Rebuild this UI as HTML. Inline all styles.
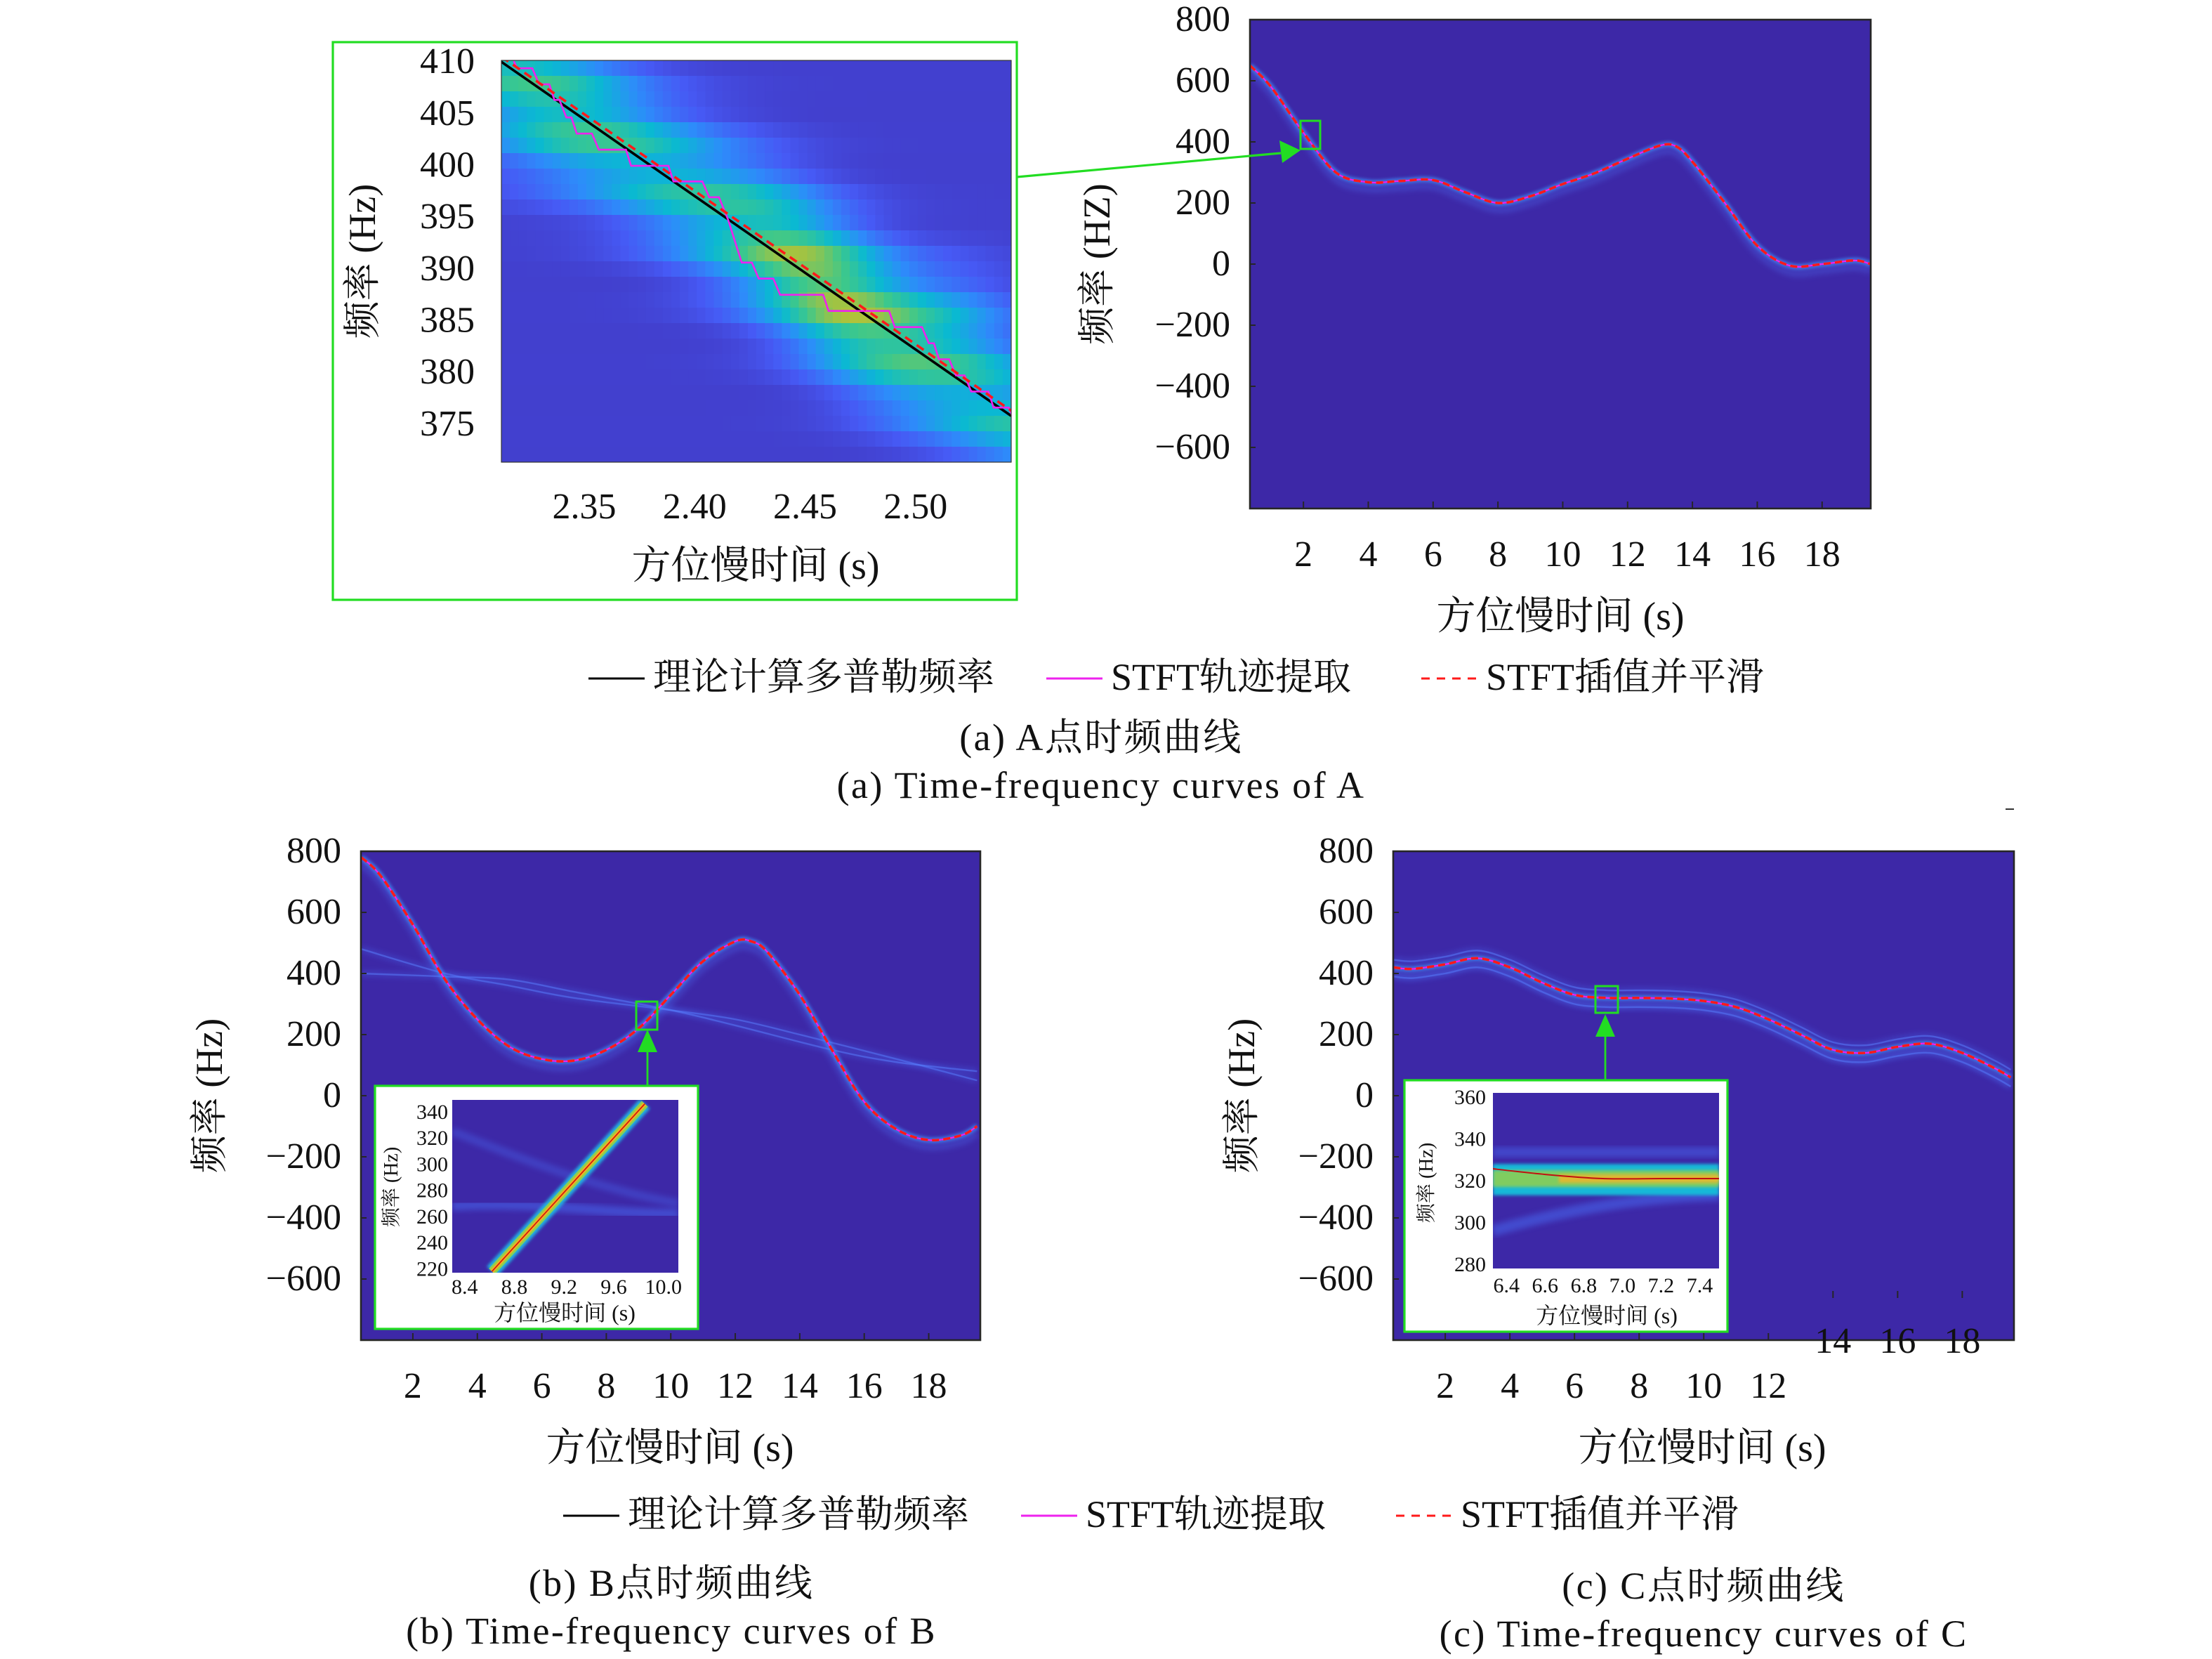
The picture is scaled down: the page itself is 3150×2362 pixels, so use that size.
<!DOCTYPE html>
<html><head><meta charset="utf-8"><style>
html,body{margin:0;padding:0;background:#fff}
svg{display:block}
text{font-family:"Liberation Serif","Noto Serif CJK SC",serif;fill:#111}
</style></head><body>
<svg id="fig" width="3150" height="2362" viewBox="0 0 1575 1181" xmlns="http://www.w3.org/2000/svg">
<defs>
<filter id="blur2" x="-20%" y="-20%" width="140%" height="140%"><feGaussianBlur stdDeviation="2"/></filter>
<filter id="blur1" x="-20%" y="-20%" width="140%" height="140%"><feGaussianBlur stdDeviation="1"/></filter>
<clipPath id="clipA"><rect x="890" y="14" width="442" height="348"/></clipPath>
<clipPath id="clipB"><rect x="257" y="606" width="441" height="348"/></clipPath>
<clipPath id="clipC"><rect x="992" y="606" width="442" height="348"/></clipPath>
<clipPath id="clipIA"><rect x="357" y="43" width="363" height="286"/></clipPath>
<clipPath id="clipIB"><rect x="322" y="783" width="161" height="123"/></clipPath>
<clipPath id="clipIC"><rect x="1063" y="778" width="161" height="125"/></clipPath>
</defs>
<g id="figroot"></g>
</svg>
<script>
// ---------- data ----------
var tA = [0.35,1,2,3,4,5,6,7,8,9,10,11,12,13,13.5,14,15,16,17,18,19,19.5];
var fA = [650,580,430,300,268,272,275,235,200,222,262,298,345,388,385,335,200,60,-5,0,12,0];
var tB = [0.4,1,2,3,4,5,6,7,8,9,10,11,12,12.5,13,14,15,16,17,18,19,19.5];
var fB = [780,720,560,380,250,160,120,115,150,220,330,440,505,505,470,330,150,-20,-110,-145,-130,-100];
var tB2 = [0.4,3,5,7,10,12,14,17,19.5];
var fB2 = [480,400,360,320,280,250,200,120,50];
var tB3 = [0.4,3,5,7,10,12,15,17,19.5];
var fB3 = [400,390,380,340,280,230,150,110,80];
var tC = [0.4,1,2,3,4,5,6,7,8,9,10,11,12,13,14,15,16,17,18,19,19.5];
var fC = [420,415,430,450,420,370,330,320,320,318,310,290,250,200,150,140,160,170,140,90,60];
var xTicksMain = [2,4,6,8,10,12,14,16,18];
var yTicksMain = [800,600,400,200,0,-200,-400,-600];
var xTicksIA = [2.35,2.40,2.45,2.50];
var yTicksIA = [410,405,400,395,390,385,380,375];
var stairT = [2.3181,2.3196,2.3265,2.3296,2.3342,2.3365,2.3388,2.3419,2.3442,2.3466,2.3535,2.3566,2.3689,2.3712,2.3881,2.3904,2.4035,2.4066,2.4110,2.4151,2.4213,2.4259,2.4290,2.4356,2.4387,2.4582,2.4606,2.4880,2.4906,2.5029,2.5060,2.5083,2.5106,2.5152,2.5183,2.5222,2.5252,2.5330,2.5353,2.5422,2.5452];
var stairF = [410.08,409.38,409.38,407.83,407.83,406.32,406.32,404.63,404.63,403.07,403.07,401.52,401.52,399.96,399.96,398.45,398.45,396.92,396.92,394.77,390.61,390.61,389.06,389.06,387.50,387.50,385.94,385.94,384.38,384.38,382.82,382.82,381.27,381.27,379.71,379.71,378.15,378.15,376.60,376.60,375.05];
var theoryT = [2.3125,2.5433];
var theoryF = [410.0,375.8];
var xTicksIB = [8.4,8.8,9.2,9.6,10.0];
var yTicksIB = [340,320,300,280,260,240,220];
var lineIBt = [8.62,9.85];
var lineIBf = [218,346];
var xTicksIC = [6.4,6.6,6.8,7.0,7.2,7.4];
var yTicksIC = [360,340,320,300,280];
var lineICt = [6.3,6.6,6.9,7.2,7.5];
var lineICf = [326,323,321,321,321];

// ---------- helpers ----------
var SVGNS="http://www.w3.org/2000/svg";
var figRoot=document.getElementById('figroot');
function mk(tag,attrs,parent){var e=document.createElementNS(SVGNS,tag);for(var k in attrs){e.setAttribute(k,attrs[k]);}(parent||figRoot).appendChild(e);return e;}
function tx(x,y,s,size,anchor,parent){var t=mk('text',{x:x,y:y,'font-size':size,'text-anchor':anchor||'middle'},parent);t.textContent=s;return t;}
function lin(d0,d1,r0,r1){return function(v){return r0+(v-d0)/(d1-d0)*(r1-r0);};}
function smooth(pts){var d='M'+pts[0][0]+','+pts[0][1];for(var i=0;i<pts.length-1;i++){var p0=pts[i-1]||pts[i],p1=pts[i],p2=pts[i+1],p3=pts[i+2]||p2;
 var c1x=p1[0]+(p2[0]-p0[0])/6,c1y=p1[1]+(p2[1]-p0[1])/6,c2x=p2[0]-(p3[0]-p1[0])/6,c2y=p2[1]-(p3[1]-p1[1])/6;
 d+=' C'+c1x+','+c1y+' '+c2x+','+c2y+' '+p2[0]+','+p2[1];}return d;}
var PSTOPS=[[0,[62,38,168]],[0.2,[70,90,245]],[0.35,[45,140,250]],[0.5,[10,185,210]],[0.65,[60,200,140]],[0.8,[170,195,60]],[0.9,[230,190,40]],[1,[249,230,20]]];
function parula(v){v=Math.max(0,Math.min(1,v));
 for(var i=0;i<PSTOPS.length-1;i++){if(v<=PSTOPS[i+1][0]){var a=PSTOPS[i],b=PSTOPS[i+1],f=(v-a[0])/(b[0]-a[0]);
   var r=Math.round(a[1][0]+(b[1][0]-a[1][0])*f),g=Math.round(a[1][1]+(b[1][1]-a[1][1])*f),bb=Math.round(a[1][2]+(b[1][2]-a[1][2])*f);
   return 'rgb('+r+','+g+','+bb+')';}}return 'rgb(249,230,20)';}
var BGCOL='#3d28a7';

function mainPlot(name,x0,y0,w,h,clip,tmin,tmax,st,sf,faint,xLow){
  var g=mk('g',{});
  
  
  var sx=lin(tmin,tmax,x0,x0+w), sy=lin(-800,800,y0+h,y0);
  var bg=mk('rect',{x:x0,y:y0,width:w,height:h,fill:BGCOL},g);
  
  
  var cg=mk('g',{'clip-path':'url(#'+clip+')'},g);
  for(var j=0;j<faint.length;j++){
    var ft=faint[j][0],ff=faint[j][1];
    var fp=ft.map(function(t,i){return [sx(t),sy(ff[i])];});
    mk('path',{d:smooth(fp),fill:'none',stroke:'#4a6df5','stroke-width':4,opacity:0.3,filter:'url(#blur2)'},cg);
    var fl=mk('path',{d:smooth(fp),fill:'none',stroke:'#5a80ff','stroke-width':1.2,opacity:0.5},cg);
    
    
  }
  var p=st.map(function(t,i){return [sx(t),sy(sf[i])];});
  var p2=st.map(function(t,i){return [sx(t),sy(sf[i]-22)];});
  mk('path',{d:smooth(p2),fill:'none',stroke:'#4f73f7','stroke-width':5,opacity:0.3,filter:'url(#blur2)'},cg);
  mk('path',{d:smooth(p),fill:'none',stroke:'#3f8cf5','stroke-width':4,opacity:0.75,filter:'url(#blur1)'},cg);
  var th=mk('path',{d:smooth(p),fill:'none',stroke:'#111','stroke-width':1.2},cg);
  
  
  var mg=mk('path',{d:smooth(p),fill:'none',stroke:'#ee22ee','stroke-width':1.2},cg);
  
  
  var rd=mk('path',{d:smooth(p),fill:'none',stroke:'#ff1a1a','stroke-width':1.8,'stroke-dasharray':'5,3'},cg);
  
  
  mk('rect',{x:x0,y:y0,width:w,height:h,fill:'none',stroke:'#262626','stroke-width':1.3},g);
  yTicksMain.forEach(function(v){mk('line',{x1:x0,x2:x0+4,y1:sy(v),y2:sy(v),stroke:'#262626'},g);
    var t=tx(x0-14,sy(v)+8,String(v).replace('-','\u2212'),26,'end',g);
    
    });
  xTicksMain.forEach(function(v){var low=xLow&&v>=14;var by=low?y0+h-30:y0+h;
    mk('line',{x1:sx(v),x2:sx(v),y1:by,y2:by-5,stroke:'#262626'},g);
    var t=tx(sx(v),low?y0+h+9:y0+h+41,String(v),26,'middle',g);
    
    });
}

// ---------- Panel A main ----------
try{
mainPlot('panel-a-main-plot',890,14,442,348,'clipA',0.35,19.5,tA,fA,[],false);
var ylA=tx(0,0,'频率 (HZ)',27,'middle');ylA.setAttribute('transform','translate(790,188) rotate(-90)');


var xlA=tx(1111,448,'方位慢时间 (s)',28,'middle');


var zbA=mk('rect',{x:926,y:86,width:14,height:20,fill:'none',stroke:'#22dd22','stroke-width':1.5});


var cnA=mk('line',{x1:724,y1:126,x2:912,y2:109,stroke:'#22dd22','stroke-width':1.6});


mk('polygon',{points:'926,107 911,100 913,116',fill:'#22dd22'});
}catch(e){console.log(e);}

// ---------- Panel A inset ----------
try{
var gIA=mk('g',{});


mk('rect',{x:237,y:30,width:487,height:397,fill:'#fff',stroke:'#22dd22','stroke-width':1.6},gIA);
var sxIA=lin(2.3125,2.5433,357,720), syIA=lin(371.33,410.14,329,43);
var hgIA=mk('g',{'clip-path':'url(#clipIA)'},gIA);
var NC=60,NR=26;
for(var r=0;r<NR;r++){for(var c=0;c<NC;c++){
  var t=2.3125+(c+0.5)/NC*0.2308, f=410.14-(r+0.5)/NR*38.81;
  var fl0=410-(t-2.3125)*148.2; var d=f-fl0;
  var v=0.1+0.55*Math.exp(-(d/7.5)*(d/7.5))*(0.75+0.45*Math.exp(-((t-2.46)/0.04)*((t-2.46)/0.04)))+0.08*Math.sin(r*1.7)*Math.exp(-(d/10)*(d/10));
  v+=0.12*Math.exp(-((t-2.33)/0.04)*((t-2.33)/0.04))*Math.exp(-((f-403)/6)*((f-403)/6));
  v+=0.12*Math.exp(-((t-2.52)/0.03)*((t-2.52)/0.03))*Math.exp(-((f-386)/5)*((f-386)/5));
  mk('rect',{x:357+c*363/NC,y:43+r*286/NR,width:363/NC+0.6,height:286/NR+0.6,fill:parula(v)},hgIA);}}
var thIA=mk('path',{d:'M'+sxIA(theoryT[0])+','+syIA(theoryF[0])+' L'+sxIA(theoryT[1])+','+syIA(theoryF[1]),stroke:'#000','stroke-width':1.8,fill:'none'},hgIA);


var stIA=mk('polyline',{points:stairT.map(function(t,i){return sxIA(t)+','+syIA(stairF[i]);}).join(' '),stroke:'#ee22ee','stroke-width':1.3,fill:'none'},hgIA);


var rdIA=mk('path',{d:'M'+sxIA(theoryT[0])+','+syIA(theoryF[0]+0.5)+' L'+sxIA(theoryT[1])+','+syIA(theoryF[1]+0.5),stroke:'#ff1a1a','stroke-width':1.8,'stroke-dasharray':'6,4',fill:'none'},hgIA);


mk('rect',{x:357,y:43,width:363,height:286,fill:'none',stroke:'#333','stroke-width':0.6},gIA);
yTicksIA.forEach(function(v){tx(338,syIA(v)+8,String(v),26,'end',gIA);});
xTicksIA.forEach(function(v){tx(sxIA(v),369,v.toFixed(2),26,'middle',gIA);});
var ylIA=tx(0,0,'频率 (Hz)',27,'middle',gIA);ylIA.setAttribute('transform','translate(267,186) rotate(-90)');
tx(538,412,'方位慢时间 (s)',28,'middle',gIA);
}catch(e){console.log(e);}

// ---------- Legends & captions ----------
function legend(y,x1,x2,x3){
  var g=mk('g',{});
  
  
  mk('line',{x1:x1,x2:x1+40,y1:y-8,y2:y-8,stroke:'#000','stroke-width':1.5},g);
  tx(x1+46,y,'理论计算多普勒频率',27,'start',g);
  mk('line',{x1:x2,x2:x2+40,y1:y-8,y2:y-8,stroke:'#ee22ee','stroke-width':1.5},g);
  tx(x2+46,y,'STFT轨迹提取',27,'start',g);
  mk('line',{x1:x3,x2:x3+40,y1:y-8,y2:y-8,stroke:'#ff1a1a','stroke-width':1.5,'stroke-dasharray':'6,5'},g);
  tx(x3+46,y,'STFT插值并平滑',27,'start',g);
}
try{
legend(491,419,745,1012);
legend(1087,401,727,994);
}catch(e){console.log(e);}
function cap(x,y,s){var t=tx(x,y,s,27,'middle');
  t.setAttribute('letter-spacing','1.2');
  
  }
cap(784,534,'(a) A点时频曲线');
cap(784,568,'(a) Time-frequency curves of A');
cap(478,1136,'(b) B点时频曲线');
cap(478,1170,'(b) Time-frequency curves of B');
cap(1213,1138,'(c) C点时频曲线');
cap(1213,1172,'(c) Time-frequency curves of C');
mk('line',{x1:1428,x2:1434,y1:576,y2:576,stroke:'#333'});

// ---------- Panel B ----------
try{
mainPlot('panel-b-main-plot',257,606,441,348,'clipB',0.39,19.6,tB,fB,[[tB2,fB2],[tB3,fB3]],false);
var ylB=tx(0,0,'频率 (Hz)',27,'middle');ylB.setAttribute('transform','translate(158,780) rotate(-90)');


var xlB=tx(477,1040,'方位慢时间 (s)',28,'middle');


mk('rect',{x:453,y:713,width:15,height:20,fill:'none',stroke:'#22dd22','stroke-width':1.5});
mk('line',{x1:461,x2:461,y1:773,y2:748,stroke:'#22dd22','stroke-width':1.4});
mk('polygon',{points:'461,733 454,749 468,749',fill:'#22dd22'});
var gIB=mk('g',{});


mk('rect',{x:267,y:773,width:230,height:173,fill:'#fff',stroke:'#22dd22','stroke-width':1.6},gIB);
var sxIB=lin(8.3,10.12,322,483), syIB=lin(217,349,906,783);
mk('rect',{x:322,y:783,width:161,height:123,fill:BGCOL},gIB);
var hgIB=mk('g',{'clip-path':'url(#clipIB)'},gIB);
mk('path',{d:'M322,'+syIB(268)+' C380,'+syIB(272)+' 430,'+syIB(262)+' 483,'+syIB(262),stroke:'#4a6df5','stroke-width':7,fill:'none',opacity:0.5,filter:'url(#blur2)'},hgIB);
mk('path',{d:'M322,'+syIB(325)+' C380,'+syIB(300)+' 430,'+syIB(280)+' 483,'+syIB(270),stroke:'#4a6df5','stroke-width':6,fill:'none',opacity:0.35,filter:'url(#blur2)'},hgIB);
var pIB='M'+sxIB(lineIBt[0])+','+syIB(lineIBf[0])+' L'+sxIB(lineIBt[1])+','+syIB(lineIBf[1]);
mk('path',{d:pIB,stroke:'#20b0e0','stroke-width':10,fill:'none',filter:'url(#blur1)'},hgIB);
mk('path',{d:pIB,stroke:'#8cd050','stroke-width':6,fill:'none'},hgIB);
mk('path',{d:pIB,stroke:'#f0b020','stroke-width':3,fill:'none'},hgIB);
var rlIB=mk('path',{d:pIB,stroke:'#d01010','stroke-width':0.8,fill:'none'},hgIB);


yTicksIB.forEach(function(v){tx(319,syIB(v)+5,String(v),15,'end',gIB);});
xTicksIB.forEach(function(v){tx(sxIB(v),921,v.toFixed(1),15,'middle',gIB);});
var ylIB=tx(0,0,'频率 (Hz)',14,'middle',gIB);ylIB.setAttribute('transform','translate(283,845) rotate(-90)');
tx(402,940,'方位慢时间 (s)',16,'middle',gIB);
}catch(e){console.log(e);}

// ---------- Panel C ----------
try{
mainPlot('panel-c-main-plot',992,606,442,348,'clipC',0.39,19.6,tC,fC,[[tC,fC.map(function(v){return v+25;})],[tC,fC.map(function(v){return v-30;})]],true);
var ylC=tx(0,0,'频率 (Hz)',27,'middle');ylC.setAttribute('transform','translate(893,780) rotate(-90)');


var xlC=tx(1212,1040,'方位慢时间 (s)',28,'middle');


mk('rect',{x:1136,y:702,width:16,height:19,fill:'none',stroke:'#22dd22','stroke-width':1.5});
mk('line',{x1:1143,x2:1143,y1:769,y2:736,stroke:'#22dd22','stroke-width':1.4});
mk('polygon',{points:'1143,722 1136,738 1150,738',fill:'#22dd22'});
var gIC=mk('g',{});


mk('rect',{x:1000,y:769,width:230,height:179,fill:'#fff',stroke:'#22dd22','stroke-width':1.6},gIC);
var sxIC=lin(6.33,7.5,1063,1224), syIC=lin(278,362,903,778);
mk('rect',{x:1063,y:778,width:161,height:125,fill:BGCOL},gIC);
var hgIC=mk('g',{'clip-path':'url(#clipIC)'},gIC);
mk('path',{d:'M1063,'+syIC(296)+' C1110,'+syIC(305)+' 1160,'+syIC(312)+' 1224,'+syIC(313),stroke:'#4a6df5','stroke-width':8,fill:'none',opacity:0.5,filter:'url(#blur2)'},hgIC);
mk('rect',{x:1063,y:syIC(336),width:161,height:7,fill:'#4a6df5',opacity:0.45,filter:'url(#blur2)'},hgIC);
mk('rect',{x:1063,y:syIC(328),width:161,height:syIC(313)-syIC(328),fill:'#18b8d8',filter:'url(#blur1)'},hgIC);
mk('rect',{x:1063,y:syIC(325),width:161,height:syIC(317)-syIC(325),fill:'#80cc60',filter:'url(#blur1)'},hgIC);
mk('rect',{x:1110,y:syIC(323),width:114,height:syIC(319)-syIC(323),fill:'#e0b830',filter:'url(#blur1)'},hgIC);
var pIC=smooth(lineICt.map(function(t,i){return [sxIC(t),syIC(lineICf[i])];}));
var rlIC=mk('path',{d:pIC,stroke:'#c01010','stroke-width':1,fill:'none'},hgIC);


yTicksIC.forEach(function(v){tx(1058,syIC(v)+5,String(v),15,'end',gIC);});
xTicksIC.forEach(function(v){tx(sxIC(v),920,v.toFixed(1),15,'middle',gIC);});
var ylIC=tx(0,0,'频率 (Hz)',14,'middle',gIC);ylIC.setAttribute('transform','translate(1020,842) rotate(-90)');
tx(1144,942,'方位慢时间 (s)',16,'middle',gIC);
}catch(e){console.log(e);}
</script>
</body></html>
